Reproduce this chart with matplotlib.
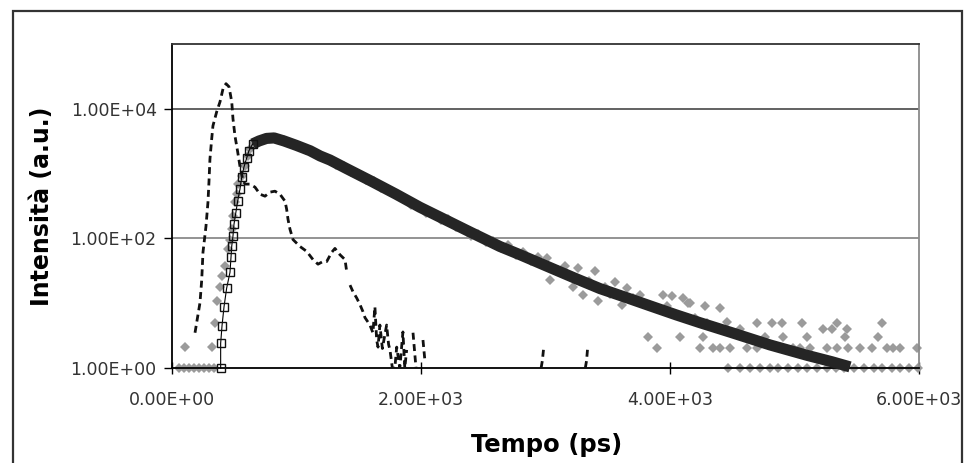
import numpy as np
import matplotlib.pyplot as plt
from matplotlib.patches import Rectangle

nan = np.nan

# instrument response (dashed line), time in ps
irf_t = [185, 225, 239, 249, 273, 289, 297, 305, 319, 329, 359, 386, 410, 434, 458, 480,
         490, 506, 528, 546, 568, 586, 626, 667, 707, 747, 787, 827, 867, 908, 921, 932,
         948, 972, 1028, 1082, 1133, 1173, 1213, 1243, 1283, 1309, 1349, 1390, 1403, 1415,
         1430, 1454, 1484, 1510, 1534, 1550, 1590, 1614, 1630, 1644, 1655, 1670, 1690, 1724,
         1740, 1751, 1770, 1790, 1805, 1830, 1855, 1870, 1885, 1910, 1936, 1960, 1990, 2016,
         2030, 2045, 2965, 2975, 2985, 3000, 3320, 3330, 3340, 3355]
irf_y = [3.5, 10.2, 23, 61, 153, 361, 738, 1680, 3430, 5450, 8980, 12850, 20400, 24400, 21900, 12850,
         7000, 3810, 2150, 1300, 822, 688, 688, 617, 481, 448, 517, 535, 481, 375, 282, 197,
         138, 96, 75, 63, 47, 40, 44, 44, 61, 70, 56, 47, 31, nan,
         19, 15, 12, 9.5, 7.4, 6, 4.6, 3.5, 8.8, 2.7, 2.1, 4.6, 2, 4.6,
         2.3, 1.9, 1, 1, 2.1, 1, 3.6, 1, 1.9, nan, 3.5, 1, nan, 2.7,
         1.4, nan, 1, 1.3, 2, nan, 1, 1.3, 2.2, nan]

# fit, rising part (square markers)
rise_t = [391, 391, 402, 418, 439, 466, 474, 480, 490, 498, 512, 528, 546, 560, 578, 600, 618, 648]
rise_y = [1, 2.4, 4.5, 8.8, 17, 30, 51, 76, 109, 165, 244, 379, 575, 883, 1260, 1740, 2250, 2870]

# fit, decay part (dense squares -> thick band)
decay_t = [648, 700, 760, 820, 900, 1000, 1110, 1190, 1269, 1400, 1600, 1800, 1992, 2200, 2400,
           2634, 2795, 3036, 3250, 3438, 3650, 3840, 4050, 4241, 4500, 4803, 5100, 5300, 5446]
decay_y = [2870, 3190, 3490, 3550, 3190, 2720, 2250, 1870, 1620, 1200, 765, 481, 302, 192, 124,
           75, 56, 35.5, 23.7, 16.8, 12.2, 9.1, 6.6, 5.0, 3.49, 2.27, 1.57, 1.25, 1.04]

# measured decay (grey diamonds)
meas_t = [60, 100, 140, 180, 220, 260, 300, 340, 104, 319,
          345, 359, 386, 399, 426, 450, 466, 480, 490, 506, 520, 530, 560, 586, 610, 626,
          660, 720, 780, 840, 900, 960, 1020, 1080, 1140, 1200, 1260, 1320, 1380, 1440, 1500,
          1560, 1620, 1680, 1740, 1800, 1860, 1920, 1980, 2040, 2100, 2160, 2220, 2280, 2340,
          2400, 2460, 2520, 2580, 2640, 2700, 2760, 2820, 2880, 2940,
          3010, 3036, 3100, 3160, 3221, 3261, 3301, 3350, 3397, 3422, 3480, 3520, 3558, 3612,
          3652, 3700, 3759, 3944, 3980, 4013, 4105, 4145, 4160, 4200, 4281, 4401, 4455, 4300,
          3893, 4241, 4345, 4401, 4482, 4616, 4697, 4988, 5044, 5124, 5258, 5338, 5430, 5526,
          5620, 5740, 5790, 5847, 5981,
          3823, 4080, 4265, 4763, 4908, 5098, 5406, 5671,
          4562, 5229, 5299, 5419,
          4697, 4817, 4897, 5058, 5338, 5700,
          4466, 4562, 4640, 4720, 4800, 4870, 4950, 5030, 5100, 5180, 5260, 5330, 5400, 5480,
          5560, 5640, 5700, 5780, 5850, 5920, 5990]
meas_y = [1, 1, 1, 1, 1, 1, 1, 1, 2.1, 2.1,
          5, 11, 18, 26, 37, 68, 96, 138, 220, 360, 480, 690, 930, 1320, 1900, 2400,
          2950, 3350, 3600, 3400, 3250, 2950, 2700, 2300, 2150, 1800, 1700, 1380, 1300, 1050, 1000,
          800, 760, 600, 560, 470, 420, 330, 320, 250, 240, 190, 200, 150, 145,
          110, 118, 88, 92, 70, 78, 55, 62, 45, 52,
          50, 23, 32, 38, 18, 35.5, 13.6, 22, 31, 10.7, 18, 14, 21, 9.5,
          17.4, 12, 13.6, 13.6, 9, 12.7, 12.2, 10, 10, 6, 8.9, 8.5, 5.2, 5,
          2, 2, 2, 2, 2, 2, 2, 2, 2, 2, 2, 2, 2, 2,
          2, 2, 2, 2, 2,
          3, 3, 3, 3, 3, 3, 3, 3,
          4, 4, 4, 4,
          5, 5, 5, 5, 5, 5,
          1, 1, 1, 1, 1, 1, 1, 1, 1, 1, 1, 1, 1, 1,
          1, 1, 1, 1, 1, 1, 1]

xticks = [0, 2000, 4000, 6000]
xtick_labels = ['0.00E+00', '2.00E+03', '4.00E+03', '6.00E+03']
yticks = [1, 1e2, 1e4]
ytick_labels = ['1.00E+00', '1.00E+02', '1.00E+04']

fig = plt.figure(figsize=(9.64, 4.63), dpi=100)
ax = fig.add_axes([0.1784, 0.2052, 0.7749, 0.6998])

# outer chart border
fig.patches.append(Rectangle((0.013, -0.05), 0.985, 1.026, transform=fig.transFigure,
                             fill=False, edgecolor='#333333', linewidth=1.6))

ax.plot(meas_t, meas_y, linestyle='none', marker='D', markersize=5.6,
        color='#9b9b9b', markeredgewidth=0, clip_on=False, zorder=2)
ax.plot(decay_t, decay_y, color='#252525', linewidth=8, solid_capstyle='butt',
        solid_joinstyle='round', clip_on=False, zorder=3)
ax.plot(rise_t, rise_y, color='black', linewidth=0.8, marker='s', markersize=5.8,
        markerfacecolor='none', markeredgecolor='#111111', markeredgewidth=1.0,
        clip_on=False, zorder=4)
ax.plot(irf_t, irf_y, color='#111111', linewidth=2.0, dashes=(2.5, 1.6), zorder=5)

ax.set_yscale('log')
ax.set_xlim(0, 6000)
ax.set_ylim(1, 1e5)
ax.set_xticks(xticks)
ax.set_xticklabels(xtick_labels)
ax.set_yticks(yticks)
ax.set_yticklabels(ytick_labels)
ax.yaxis.set_minor_locator(plt.NullLocator())
ax.xaxis.set_minor_locator(plt.NullLocator())

for y in [1e2, 1e4]:
    ax.axhline(y, color='#8a8a8a' if y == 1e2 else '#555555', linewidth=1.3, zorder=1)

ax.tick_params(axis='y', direction='out', length=6, width=1, pad=5,
               labelsize=12.5, labelcolor='#333333')
ax.tick_params(axis='x', direction='inout', length=9, width=1, pad=12,
               labelsize=12.5, labelcolor='#333333')

ax.spines['left'].set_color('black')
ax.spines['bottom'].set_color('black')
ax.spines['top'].set_color('#333333')
ax.spines['right'].set_color('#8a8a8a')
for s in ax.spines.values():
    s.set_linewidth(1.3)

ax.set_ylabel('Intensità (a.u.)', fontsize=17, fontweight='bold', va='center')
ax.yaxis.set_label_coords(-0.174, 0.5)
ax.set_xlabel('Tempo (ps)', fontsize=17.5, fontweight='bold', va='center')
ax.xaxis.set_label_coords(0.502, -0.238)

fig.savefig('out.png', dpi=100)
